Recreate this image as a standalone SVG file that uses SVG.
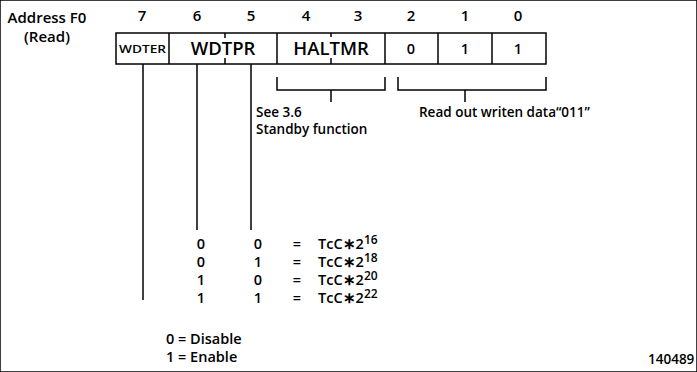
<svg xmlns="http://www.w3.org/2000/svg" width="697" height="372" viewBox="0 0 697 372">
<style>
text{font-family:"Open Sans","Liberation Sans",sans-serif;fill:#000}
.b{font-size:15px;font-weight:600;text-anchor:middle}
.r{font-size:15px;font-weight:600}
.g{font-size:18.5px;font-weight:600;text-anchor:middle}
.c{font-size:14.5px;font-weight:600;text-anchor:middle}
.n{font-size:13.5px;font-weight:600}
.t{font-size:14.5px;font-weight:600}
.s{font-size:10px;font-weight:600}
line,rect,path{stroke:#000;stroke-width:1.5;fill:none}
</style>
<rect width="697" height="372" fill="#fff" stroke="none"/>
<g id="title">
<text class="r" x="47" y="23" text-anchor="middle">Address F0</text>
<text class="r" x="47" y="42" text-anchor="middle">(Read)</text>
</g>
<g id="bits">
<text class="b" x="142" y="21">7</text>
<text class="b" x="197" y="21">6</text>
<text class="b" x="251" y="21">5</text>
<text class="b" x="306" y="21">4</text>
<text class="b" x="358" y="21">3</text>
<text class="b" x="411" y="21">2</text>
<text class="b" x="465" y="21">1</text>
<text class="b" x="518" y="21">0</text>
</g>
<g id="register">
<rect x="116" y="33" width="430" height="31"/>
<line x1="169" y1="33" x2="169" y2="64"/>
<line x1="277" y1="33" x2="277" y2="64"/>
<line x1="385" y1="33" x2="385" y2="64"/>
<line x1="438" y1="33" x2="438" y2="64"/>
<line x1="492" y1="33" x2="492" y2="64"/>
<line x1="225" y1="33" x2="225" y2="38"/>
<line x1="225" y1="58" x2="225" y2="64"/>
<line x1="331" y1="33" x2="331" y2="37"/>
<line x1="331" y1="58" x2="331" y2="64"/>
<text class="s" x="119" y="53" textLength="47" lengthAdjust="spacingAndGlyphs">WDTER</text>
<text class="g" x="223" y="55">WDTPR</text>
<text class="g" x="331" y="55">HALTMR</text>
<text class="c" x="411" y="54">0</text>
<text class="c" x="465" y="54">1</text>
<text class="c" x="518" y="54">1</text>
</g>
<g id="connectors">
<line x1="143" y1="64" x2="143" y2="300"/>
<line x1="197" y1="64" x2="197" y2="230"/>
<line x1="251" y1="64" x2="251" y2="230"/>
<path d="M277 77V90H385V77M331 90V102"/>
<path d="M398 77V90H546V77M465 90V102"/>
</g>
<g id="notes">
<text class="n" x="256" y="117">See 3.6</text>
<text class="n" x="256" y="134">Standby function</text>
<text class="n" x="419" y="117">Read out writen data“011”</text>
</g>
<g id="table">
<text class="c" x="201" y="249">0</text><text class="c" x="258" y="249">0</text><text class="c" x="297" y="249">=</text><text class="t" x="318" y="249">TcC∗2<tspan dy="-5" font-size="12">16</tspan></text>
<text class="c" x="201" y="267">0</text><text class="c" x="258" y="267">1</text><text class="c" x="297" y="267">=</text><text class="t" x="318" y="267">TcC∗2<tspan dy="-5" font-size="12">18</tspan></text>
<text class="c" x="201" y="285">1</text><text class="c" x="258" y="285">0</text><text class="c" x="297" y="285">=</text><text class="t" x="318" y="285">TcC∗2<tspan dy="-5" font-size="12">20</tspan></text>
<text class="c" x="201" y="303">1</text><text class="c" x="258" y="303">1</text><text class="c" x="297" y="303">=</text><text class="t" x="318" y="303">TcC∗2<tspan dy="-5" font-size="12">22</tspan></text>
</g>
<g id="enable">
<text class="t" x="166" y="344">0 = Disable</text>
<text class="t" x="166" y="362">1 = Enable</text>
</g>
<text class="n" x="648" y="364" font-size="10.5">140489</text>
</svg>
